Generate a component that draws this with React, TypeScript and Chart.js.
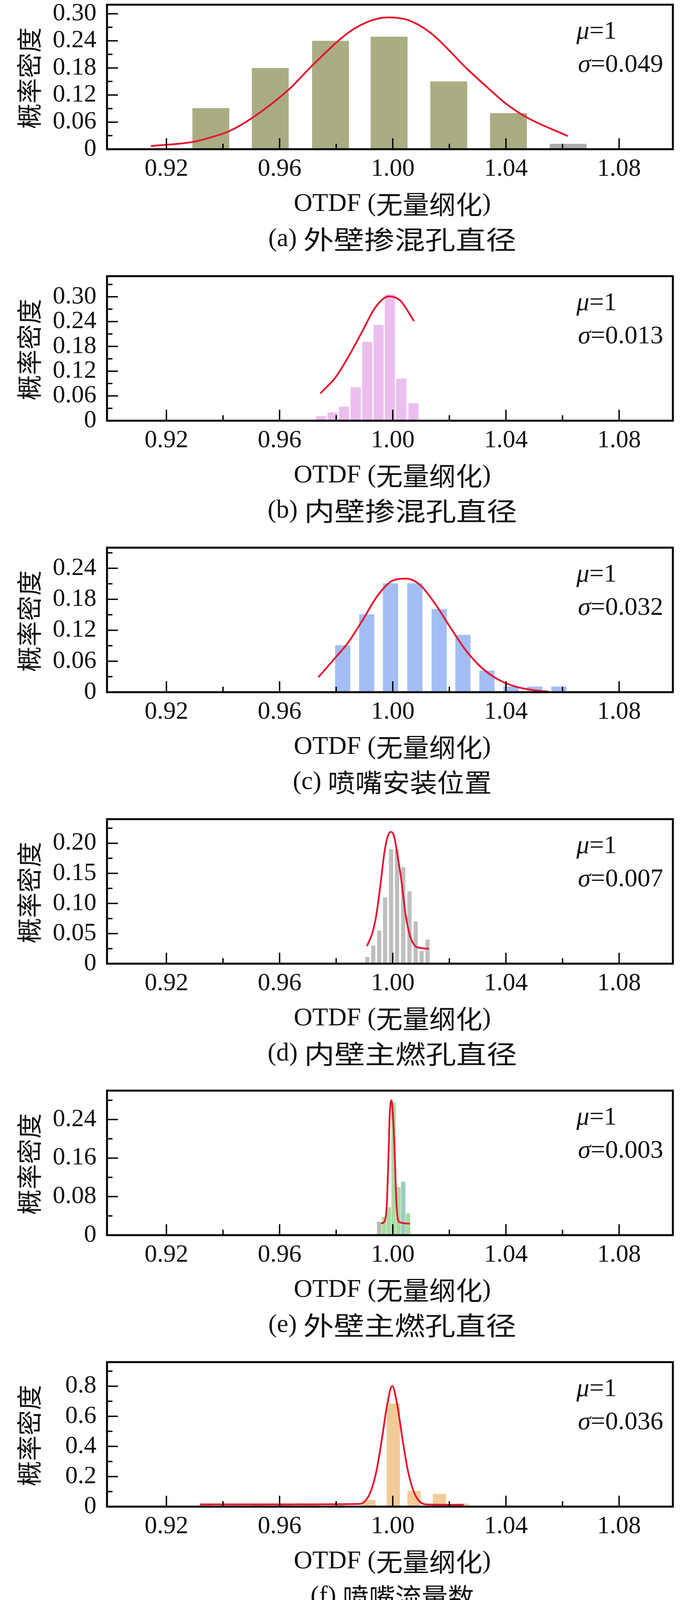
import React, { useEffect, useRef } from 'react';
import { Chart, registerables } from 'chart.js';

Chart.register(...registerables);

// ---------- shared axis data ----------
const xMajorTicks = [0.92, 0.96, 1.0, 1.04, 1.08];
const xMajorLabels = ['0.92', '0.96', '1.00', '1.04', '1.08'];
const xMinorTicks = [0.94, 0.98, 1.02, 1.06];
const xTitle = ['OTDF (', '无量纲化', ')'];
const yTitle = '概率密度';
const muText = '=1';

// ---------- panel (a) ----------
const binXA = [0.9357, 0.9567, 0.978, 0.9987, 1.0198, 1.0409, 1.062];
const densA = [0.091, 0.18, 0.24, 0.249, 0.15, 0.08, 0.012];
const fitXA = [0.9145, 0.9292, 0.935, 0.9422, 0.9507, 0.9634, 0.9712, 0.9845, 0.992, 0.9984, 1.0054, 1.0133, 1.0266, 1.0343, 1.04, 1.0472, 1.0619];
const fitYA = [0.007, 0.016, 0.025, 0.04, 0.071, 0.133, 0.183, 0.259, 0.284, 0.292, 0.286, 0.258, 0.176, 0.132, 0.101, 0.071, 0.029];
const yTicksA = [0, 0.06, 0.12, 0.18, 0.24, 0.3];
const yLabelsA = ['0', '0.06', '0.12', '0.18', '0.24', '0.30'];
const yMinorA = [0.03, 0.09, 0.15, 0.21, 0.27];
const captionA = ['(a) ', '外壁掺混孔直径'];
const sigmaA = '=0.049';

// ---------- panel (b) ----------
const binXB = [0.9746, 0.9787, 0.9828, 0.9869, 0.991, 0.995, 0.999, 1.003, 1.0073];
const densB = [0.011, 0.02, 0.034, 0.081, 0.191, 0.232, 0.306, 0.102, 0.042];
const fitXB = [0.9744, 0.9799, 0.9845, 0.9892, 0.9939, 0.9986, 1.0025, 1.0048, 1.0075];
const fitYB = [0.066, 0.106, 0.157, 0.216, 0.275, 0.301, 0.292, 0.271, 0.241];
const yTicksB = [0, 0.06, 0.12, 0.18, 0.24, 0.3];
const yLabelsB = ['0', '0.06', '0.12', '0.18', '0.24', '0.30'];
const yMinorB = [0.03, 0.09, 0.15, 0.21, 0.27, 0.33];
const captionB = ['(b) ', '内壁掺混孔直径'];
const sigmaB = '=0.013';

// ---------- panel (c) ----------
const binXC = [0.9823, 0.9908, 0.9992, 1.0078, 1.0164, 1.0248, 1.0333, 1.0418, 1.0502, 1.0587];
const densC = [0.091, 0.151, 0.211, 0.211, 0.161, 0.111, 0.042, 0.011, 0.011, 0.011];
const fitXC = [0.9737, 0.9788, 0.9842, 0.9895, 0.9949, 1.0003, 1.0046, 1.0096, 1.015, 1.0204, 1.0257, 1.0311, 1.0365, 1.0432, 1.0498, 1.0552];
const fitYC = [0.029, 0.061, 0.096, 0.141, 0.189, 0.217, 0.22, 0.208, 0.171, 0.125, 0.082, 0.049, 0.027, 0.011, 0.004, 0.001];
const yTicksC = [0, 0.06, 0.12, 0.18, 0.24];
const yLabelsC = ['0', '0.06', '0.12', '0.18', '0.24'];
const yMinorC = [0.03, 0.09, 0.15, 0.21, 0.27];
const captionC = ['(c) ', '喷嘴安装位置'];
const sigmaC = '=0.032';

// ---------- panel (d) ----------
const binXD = [0.991, 0.9931, 0.9952, 0.9973, 0.9994, 1.0015, 1.0037, 1.0059, 1.0081, 1.0102, 1.0123];
const densD = [0.011, 0.03, 0.055, 0.11, 0.19, 0.19, 0.16, 0.12, 0.07, 0.021, 0.04];
const fitXD = [0.9909, 0.9929, 0.9942, 0.9956, 0.997, 0.9982, 0.9993, 1.0005, 1.0018, 1.003, 1.0044, 1.0058, 1.0076, 1.0099, 1.0127];
const fitYD = [0.029, 0.053, 0.081, 0.129, 0.183, 0.211, 0.219, 0.211, 0.176, 0.14, 0.086, 0.051, 0.031, 0.026, 0.025];
const yTicksD = [0, 0.05, 0.1, 0.15, 0.2];
const yLabelsD = ['0', '0.05', '0.10', '0.15', '0.20'];
const yMinorD = [0.025, 0.075, 0.125, 0.175, 0.225];
const captionD = ['(d) ', '内壁主燃孔直径'];
const sigmaD = '=0.007';

// ---------- panel (e) ----------
const binXE = [0.9952, 0.9969, 0.9986, 1.0003, 1.002, 1.0037, 1.0054];
const densE = [0.028, 0.038, 0.058, 0.275, 0.1, 0.111, 0.045];
const fitXE = [0.9959, 0.9972, 0.9979, 0.9985, 0.9989, 0.9995, 1.0001, 1.0007, 1.0013, 1.0023, 1.006];
const fitYE = [0.024, 0.03, 0.065, 0.165, 0.246, 0.28, 0.246, 0.165, 0.065, 0.027, 0.024];
const yTicksE = [0, 0.08, 0.16, 0.24];
const yLabelsE = ['0', '0.08', '0.16', '0.24'];
const yMinorE = [0.04, 0.12, 0.2, 0.28];
const captionE = ['(e) ', '外壁主燃孔直径'];
const sigmaE = '=0.003';

// ---------- panel (f) ----------
const binXF = [0.9335, 0.943, 0.9525, 0.962, 0.9715, 0.981, 0.9916, 1.0002, 1.0075, 1.0165, 1.0245];
const densF = [0.012, 0.008, 0.014, 0.016, 0.012, 0.012, 0.045, 0.685, 0.104, 0.084, 0.02];
const fitXF = [0.9319, 0.9601, 0.9883, 0.9903, 0.9923, 0.9943, 0.9963, 0.9979, 0.9998, 1.0017, 1.0033, 1.0053, 1.0073, 1.0094, 1.0124, 1.0251];
const fitYF = [0.015, 0.015, 0.018, 0.038, 0.105, 0.243, 0.466, 0.664, 0.802, 0.664, 0.466, 0.243, 0.105, 0.036, 0.014, 0.012];
const yTicksF = [0, 0.2, 0.4, 0.6, 0.8];
const yLabelsF = ['0', '0.2', '0.4', '0.6', '0.8'];
const yMinorF = [0.1, 0.3, 0.5, 0.7, 0.9];
const captionF = ['(f) ', '喷嘴流量数'];
const sigmaF = '=0.036';

// ---------- styling / layout ----------
const WIDTH = 1772;
const PAGE_H = 4134;
const PANEL_H = 695;
const AREA_TOP = 12;
const AREA_BOTTOM = 382;
const AREA_LEFT = 274;
const AREA_RIGHT = 1723;
const X_MIN = 0.899;
const X_MAX = 1.099;
const RED = '#E8122E';
const SERIF = "'Liberation Serif', 'Times New Roman', serif";
const CJK = "'Noto Sans CJK SC', 'Noto Sans CJK JP', sans-serif";
const FS = 64;

const OLIVE = '#AAAD82';
const GREY_A = '#ABABAB';
const PINK = '#ECBEEE';
const BLUE = '#A4BEF4';
const GREY_D = '#BEBEBE';
const GREEN = '#A8DCA2';
const TEAL = '#9ECDBF';
const ORANGE = '#F3CB97';

const panels = [
  { binX: binXA, dens: densA, colors: binXA.map((_, i) => (i === 6 ? GREY_A : OLIVE)), barPct: 0.63, fitX: fitXA, fitY: fitYA, yMax: 0.32, yTicks: yTicksA, yLabels: yLabelsA, yMinor: yMinorA, caption: captionA, capSx: 1.18, sigma: sigmaA },
  { binX: binXB, dens: densB, colors: binXB.map(() => PINK), barPct: 0.9, fitX: fitXB, fitY: fitYB, yMax: 0.35, yTicks: yTicksB, yLabels: yLabelsB, yMinor: yMinorB, caption: captionB, capSx: 1.18, sigma: sigmaB },
  { binX: binXC, dens: densC, colors: binXC.map(() => BLUE), barPct: 0.64, fitX: fitXC, fitY: fitYC, yMax: 0.28, yTicks: yTicksC, yLabels: yLabelsC, yMinor: yMinorC, caption: captionC, capSx: 1.06, sigma: sigmaC },
  { binX: binXD, dens: densD, colors: binXD.map(() => GREY_D), barPct: 0.71, fitX: fitXD, fitY: fitYD, yMax: 0.24, yTicks: yTicksD, yLabels: yLabelsD, yMinor: yMinorD, caption: captionD, capSx: 1.18, sigma: sigmaD },
  { binX: binXE, dens: densE, colors: binXE.map((_, i) => (i === 5 ? TEAL : i === 0 ? '#B4BCB0' : GREEN)), barPct: 0.92, fitX: fitXE, fitY: fitYE, yMax: 0.3, yTicks: yTicksE, yLabels: yLabelsE, yMinor: yMinorE, caption: captionE, capSx: 1.18, sigma: sigmaE },
  { binX: binXF, dens: densF, colors: binXF.map(() => ORANGE), barPct: 0.64, fitX: fitXF, fitY: fitYF, yMax: 0.96, yTicks: yTicksF, yLabels: yLabelsF, yMinor: yMinorF, caption: captionF, capSx: 1.02, sigma: sigmaF },
];

type Seg = { text: string; font: string; sx?: number };

function segW(ctx: CanvasRenderingContext2D, s: Seg) {
  ctx.font = s.font;
  return ctx.measureText(s.text).width * (s.sx || 1);
}

function drawSegs(ctx: CanvasRenderingContext2D, segs: Seg[], x: number, y: number, center: boolean) {
  let total = 0;
  for (const s of segs) total += segW(ctx, s);
  let cx = center ? x - total / 2 : x;
  ctx.textAlign = 'left';
  ctx.textBaseline = 'middle';
  for (const s of segs) {
    const w = segW(ctx, s);
    ctx.save();
    ctx.translate(cx, y);
    ctx.scale(s.sx || 1, 1);
    ctx.fillText(s.text, 0, 0);
    ctx.restore();
    cx += w;
  }
}

function framePlugin(p: any) {
  return {
    id: 'frame',
    afterDraw(chart: any) {
      const ctx: CanvasRenderingContext2D = chart.ctx;
      const { left, right, top, bottom } = chart.chartArea;
      const xs = chart.scales.x;
      const ys = chart.scales.y;
      ctx.save();
      ctx.strokeStyle = '#000';
      ctx.lineCap = 'butt';
      ctx.lineWidth = 3.5;
      ctx.beginPath();
      xMajorTicks.forEach((v) => {
        const px = xs.getPixelForValue(v);
        ctx.moveTo(px, bottom);
        ctx.lineTo(px, bottom - 28);
      });
      xMinorTicks.forEach((v) => {
        const px = xs.getPixelForValue(v);
        ctx.moveTo(px, bottom);
        ctx.lineTo(px, bottom - 14);
      });
      p.yTicks.forEach((v: number) => {
        const py = ys.getPixelForValue(v);
        ctx.moveTo(left, py);
        ctx.lineTo(left + 28, py);
      });
      p.yMinor.forEach((v: number) => {
        const py = ys.getPixelForValue(v);
        ctx.moveTo(left, py);
        ctx.lineTo(left + 14, py);
      });
      ctx.stroke();
      ctx.lineWidth = 5;
      ctx.strokeRect(left, top, right - left, bottom - top);

      ctx.fillStyle = '#111';
      const midX = (left + right) / 2;
      // x title
      drawSegs(ctx, [
        { text: xTitle[0], font: `66px ${SERIF}` },
        { text: xTitle[1], font: `66px ${CJK}`, sx: 1.03 },
        { text: xTitle[2], font: `66px ${SERIF}` },
      ], midX + 6, bottom + 141, true);
      // caption
      drawSegs(ctx, [
        { text: p.caption[0], font: `66px ${SERIF}` },
        { text: p.caption[1], font: `66px ${CJK}`, sx: p.capSx },
      ], midX + 6, bottom + 231, true);
      // mu / sigma
      drawSegs(ctx, [
        { text: 'μ', font: `italic 66px ${SERIF}` },
        { text: muText, font: `66px ${SERIF}` },
      ], 1476, top + 70, false);
      drawSegs(ctx, [
        { text: 'σ', font: `italic 66px ${SERIF}` },
        { text: p.sigma, font: `66px ${SERIF}` },
      ], 1480, top + 155, false);
      // y title
      ctx.save();
      ctx.translate(74, (top + bottom) / 2 + 3);
      ctx.rotate(-Math.PI / 2);
      ctx.font = `65px ${CJK}`;
      ctx.textAlign = 'center';
      ctx.textBaseline = 'middle';
      ctx.fillText(yTitle, 0, 0);
      ctx.restore();
      ctx.restore();
    },
  };
}

function Panel({ p, index }: { p: any; index: number }) {
  const ref = useRef<HTMLCanvasElement | null>(null);
  useEffect(() => {
    if (!ref.current) return;
    const chart = new Chart(ref.current, {
      type: 'bar',
      data: {
        datasets: [
          {
            type: 'line',
            data: p.fitX.map((x: number, i: number) => ({ x, y: p.fitY[i] })),
            borderColor: RED,
            borderWidth: 4.5,
            pointRadius: 0,
            fill: false,
            cubicInterpolationMode: 'monotone',
            order: 0,
          } as any,
          {
            type: 'bar',
            data: p.binX.map((x: number, i: number) => ({ x, y: p.dens[i] })),
            backgroundColor: p.colors,
            borderWidth: 0,
            barPercentage: p.barPct,
            categoryPercentage: 1,
            order: 1,
          } as any,
        ],
      },
      options: {
        animation: false,
        responsive: true,
        maintainAspectRatio: false,
        devicePixelRatio: 1,
        layout: { padding: { top: AREA_TOP, right: WIDTH - AREA_RIGHT, left: 0, bottom: 0 } },
        plugins: { legend: { display: false }, tooltip: { enabled: false }, title: { display: false } },
        scales: {
          x: {
            type: 'linear',
            min: X_MIN,
            max: X_MAX,
            offset: false,
            grid: { display: false, drawTicks: false },
            border: { display: false },
            ticks: {
              autoSkip: false,
              maxRotation: 0,
              padding: 13,
              color: '#111',
              font: { family: SERIF, size: FS },
              callback: (_v: any, i: number) => xMajorLabels[i],
            },
            afterBuildTicks: (s: any) => {
              s.ticks = xMajorTicks.map((v) => ({ value: v }));
            },
            afterFit: (s: any) => {
              s.height = PANEL_H - AREA_BOTTOM;
              s.paddingLeft = 0;
              s.paddingRight = 0;
              s.paddingTop = 0;
              s.paddingBottom = 0;
            },
          },
          y: {
            type: 'linear',
            min: 0,
            max: p.yMax,
            grid: { display: false, drawTicks: false },
            border: { display: false },
            ticks: {
              autoSkip: false,
              padding: 27,
              color: '#111',
              font: { family: SERIF, size: FS },
              callback: (_v: any, i: number) => p.yLabels[i],
            },
            afterBuildTicks: (s: any) => {
              s.ticks = p.yTicks.map((v: number) => ({ value: v }));
            },
            afterFit: (s: any) => {
              s.width = AREA_LEFT;
              s.paddingLeft = 0;
              s.paddingRight = 0;
              s.paddingTop = 0;
              s.paddingBottom = 0;
            },
          },
        } as any,
      },
      plugins: [framePlugin(p)],
    } as any);
    return () => chart.destroy();
  }, [p]);
  return (
    <div style={{ position: 'absolute', left: 0, top: index * PANEL_H, width: WIDTH, height: PANEL_H }}>
      <canvas ref={ref} />
    </div>
  );
}

export default function App() {
  return (
    <div style={{ position: 'absolute', left: 0, top: 0, width: WIDTH, height: PAGE_H, overflow: 'hidden', background: '#fff' }}>
      {panels.map((p, i) => (
        <Panel key={i} p={p} index={i} />
      ))}
    </div>
  );
}
